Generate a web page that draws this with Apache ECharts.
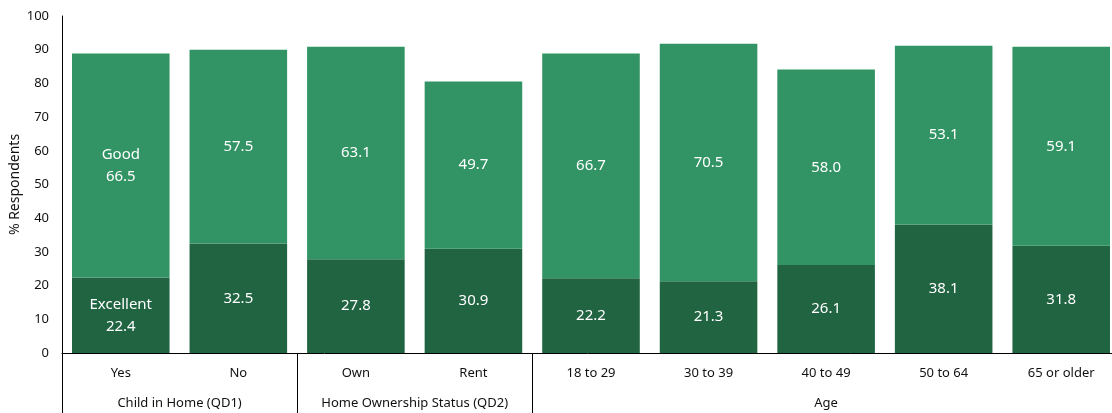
<!DOCTYPE html>
<html>
<head>
<meta charset="utf-8">
<script src="https://cdn.jsdelivr.net/npm/echarts@6/dist/echarts.min.js"></script>
<style>
  html, body { margin: 0; padding: 0; background: #fff; }
  #chart { width: 1112px; height: 413px; }
</style>
</head>
<body>
<div id="chart"></div>
<script>
// Respondent ratings by subgroup
const categories = ['Yes', 'No', 'Own', 'Rent', '18 to 29', '30 to 39', '40 to 49', '50 to 64', '65 or older'];
const excellent = [22.4, 32.5, 27.8, 30.9, 22.2, 21.3, 26.1, 38.1, 31.8];
const good = [66.5, 57.5, 63.1, 49.7, 66.7, 70.5, 58.0, 53.1, 59.1];

// Subgroup headings and how many categories each one covers
const groupNames = ['Child in Home (QD1)', 'Home Ownership Status (QD2)', 'Age'];
const groupSizes = [2, 2, 5];

const yTicks = [0, 10, 20, 30, 40, 50, 60, 70, 80, 90, 100];

// Group boundaries and centres in category units
const groupEdges = [0];
const groupCentres = [];
groupSizes.forEach((n, i) => {
  const start = groupEdges[i];
  groupEdges.push(start + n);
  groupCentres.push(start + n / 2);
});

const FONT = 'Noto Sans';
const TEXT = '#111';
const chart = echarts.init(document.getElementById('chart'));

chart.setOption({
  animation: false,
  grid: {
    left: 62, right: -8, top: 16, bottom: 60,
    containLabel: false,
    outerBoundsMode: 'none'
  },
  xAxis: [
    {
      type: 'category',
      data: categories,
      position: 'bottom',
      axisLine: { show: true, lineStyle: { color: '#000', width: 1 } },
      axisTick: { show: false },
      axisLabel: { color: TEXT, fontFamily: FONT, fontSize: 13, margin: 14 }
    },
    {
      type: 'value',
      min: 0,
      max: categories.length,
      position: 'bottom',
      axisLine: { show: false },
      splitLine: { show: false },
      axisTick: {
        show: true,
        inside: false,
        length: 62,
        customValues: groupEdges,
        lineStyle: { color: '#000', width: 1 }
      },
      axisLabel: {
        customValues: groupCentres,
        color: TEXT,
        fontFamily: FONT,
        fontSize: 13,
        margin: 44,
        formatter: (v) => {
          const i = groupCentres.indexOf(v);
          return i >= 0 ? groupNames[i] : '';
        }
      }
    }
  ],
  yAxis: {
    type: 'value',
    min: yTicks[0],
    max: yTicks[yTicks.length - 1],
    interval: 10,
    name: '% Respondents',
    nameLocation: 'middle',
    nameRotate: 90,
    nameGap: 40,
    nameMoveOverlap: false,
    nameTextStyle: { color: TEXT, fontFamily: FONT, fontSize: 14 },
    axisLine: { show: true, lineStyle: { color: '#000', width: 1 } },
    axisTick: { show: false },
    splitLine: { show: false },
    axisLabel: { color: TEXT, fontFamily: FONT, fontSize: 13, margin: 13 }
  },
  series: [
    {
      name: 'Excellent',
      type: 'bar',
      stack: 'rating',
      xAxisIndex: 0,
      barCategoryGap: '17%',
      data: excellent,
      itemStyle: { color: '#216442' },
      label: {
        show: true,
        position: 'inside',
        color: '#fff',
        fontFamily: FONT,
        fontSize: 15,
        lineHeight: 22,
        formatter: (p) => p.dataIndex === 0 ? 'Excellent\n' + p.value.toFixed(1) : p.value.toFixed(1)
      }
    },
    {
      name: 'Good',
      type: 'bar',
      stack: 'rating',
      xAxisIndex: 0,
      barCategoryGap: '17%',
      data: good,
      itemStyle: { color: '#329464' },
      label: {
        show: true,
        position: 'inside',
        color: '#fff',
        fontFamily: FONT,
        fontSize: 15,
        lineHeight: 22,
        formatter: (p) => p.dataIndex === 0 ? 'Good\n' + p.value.toFixed(1) : p.value.toFixed(1)
      }
    }
  ]
});
</script>
</body>
</html>
